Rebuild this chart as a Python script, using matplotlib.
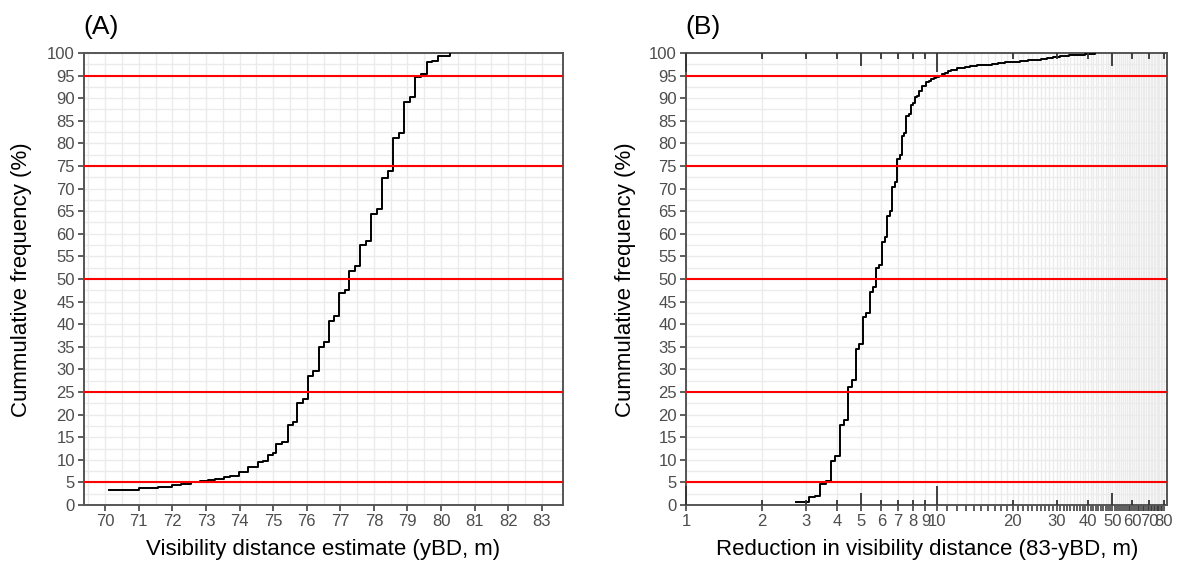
import matplotlib
matplotlib.use('Agg')
import matplotlib.pyplot as plt
from matplotlib.ticker import FixedLocator, NullLocator, FixedFormatter

plt.rcParams['font.family'] = ['Liberation Sans', 'DejaVu Sans']

# ---------------- data ----------------
# Panel A: ECDF of visibility distance estimate (yBD, m)
yBD = [70.10, 71.02, 71.58, 71.98, 72.27, 72.57, 72.82, 73.07, 73.26, 73.53,
       73.71, 73.98, 74.25, 74.55, 74.70, 74.85, 75.00, 75.10, 75.27, 75.44,
       75.59, 75.72, 75.89, 76.04, 76.20, 76.36, 76.50, 76.66, 76.82, 76.97,
       77.14, 77.27, 77.44, 77.60, 77.77, 77.92, 78.09, 78.25, 78.42, 78.58,
       78.75, 78.90, 79.07, 79.22, 79.40, 79.57, 79.74, 79.92, 80.26]
cum_A = [3.3, 3.7, 4.05, 4.4, 4.7, 5.0, 5.2, 5.5, 5.8, 6.1,
         6.5, 7.2, 8.3, 9.5, 9.8, 11.1, 11.5, 13.4, 14.0, 17.7,
         18.3, 22.5, 23.5, 28.6, 29.6, 35.0, 36.0, 40.8, 41.9, 46.8,
         47.5, 51.7, 52.8, 57.5, 58.5, 64.3, 65.4, 72.4, 73.8, 81.2,
         82.2, 89.1, 90.2, 94.8, 95.3, 97.9, 98.3, 99.4, 100.0]

# Panel B: ECDF of reduction in visibility distance (83-yBD, m)
reduction = [2.74, 3.08, 3.26, 3.43, 3.60, 3.78, 3.93, 4.10, 4.25, 4.42,
             4.58, 4.75, 4.91, 5.08, 5.23, 5.40, 5.56, 5.73, 5.86, 6.03,
             6.18, 6.34, 6.50, 6.64, 6.80, 6.96, 7.11, 7.28, 7.41, 7.56,
             7.73, 7.90, 8.00, 8.15, 8.30, 8.45, 8.75, 9.02, 9.29, 9.47,
             9.74, 9.93, 10.18, 10.43, 10.73, 11.02, 11.42, 11.98, 12.90,
             13.5, 14.5, 15.5, 16.5, 17.5, 18.7, 20.0, 21.5, 23.0, 24.5,
             26.0, 27.5, 29.0, 31.0, 33.5, 36.0, 39.0, 42.5]
cum_B = [0.6, 1.7, 2.1, 4.7, 5.2, 9.8, 10.9, 17.8, 18.8, 26.2,
         27.6, 34.6, 35.7, 41.5, 42.5, 47.2, 48.3, 52.5, 53.2, 58.1,
         59.2, 64.0, 65.0, 70.4, 71.4, 76.5, 77.5, 81.7, 82.3, 86.0,
         86.6, 88.5, 88.9, 90.2, 90.5, 91.7, 92.8, 93.5, 93.9, 94.2,
         94.5, 94.8, 95.0, 95.3, 95.6, 95.95, 96.3, 96.7, 96.9,
         97.1, 97.3, 97.45, 97.6, 97.75, 97.9, 98.1, 98.25, 98.4, 98.55,
         98.7, 98.9, 99.1, 99.3, 99.5, 99.6, 99.75, 100.0]

ref_levels = [5, 25, 50, 75, 95]
y_ticks = list(range(0, 101, 5))
A_xticks = list(range(70, 84))
B_xticks = list(range(1, 81))
B_xlabels = [1, 2, 3, 4, 5, 6, 7, 8, 9, 10, 20, 30, 40, 50, 60, 70, 80]
log_long = [1, 10]
log_mid = [5, 50]
log_short = [2, 3, 4, 6, 7, 8, 9, 20, 30, 40, 60, 70, 80]

# ---------------- figure ----------------
W, H = 1179, 565
fig = plt.figure(figsize=(W / 100, H / 100), dpi=100)


def rect(l, t, r, b):
    return [l / W, 1 - b / H, (r - l) / W, (b - t) / H]


axA = fig.add_axes(rect(84, 53, 563, 505))
axB = fig.add_axes(rect(686, 53, 1167, 505))

GRID = '#EBEBEB'
SPINE = '#555555'
TICKC = '#4D4D4D'


def style(ax):
    for s in ax.spines.values():
        s.set_color(SPINE)
        s.set_linewidth(1.4)
    ax.set_ylim(0, 100)
    ax.yaxis.set_major_locator(FixedLocator(y_ticks))
    ax.yaxis.set_minor_locator(FixedLocator([v + 2.5 for v in y_ticks[:-1]]))
    ax.tick_params(which='major', direction='out', length=4, width=1.1,
                   color='#333333', labelcolor=TICKC, labelsize=12, pad=2.5)
    ax.tick_params(which='minor', length=0)
    ax.grid(True, which='both', color=GRID, lw=1.0, zorder=0)
    ax.set_axisbelow(True)
    for lv in ref_levels:
        ax.axhline(lv, color='#FF0000', lw=1.5, zorder=4)


# Panel A
axA.step(yBD, cum_A, where='post', color='black', lw=1.4, zorder=3)
axA.set_xlim(69.37, 83.63)
axA.xaxis.set_major_locator(FixedLocator(A_xticks))
axA.xaxis.set_minor_locator(FixedLocator([v + 0.5 for v in A_xticks[:-1]] + [69.5]))
style(axA)

# Panel B
axB.set_xscale('log')
axB.step(reduction, cum_B, where='post', color='black', lw=1.4, zorder=3)
axB.set_xlim(1, 82.5)
axB.xaxis.set_major_locator(FixedLocator(B_xticks))
axB.xaxis.set_minor_locator(NullLocator())
axB.xaxis.set_major_formatter(FixedFormatter(
    [str(v) if v in B_xlabels else '' for v in B_xticks]))
style(axB)
axB.grid(False, which='minor', axis='x')

trans = axB.get_xaxis_transform()
ph = 452.0
for xs, L in ((log_long, 19), (log_mid, 12.5), (log_short, 5.5)):
    f = L / ph
    axB.vlines(xs, 0, f, transform=trans, color='#333333', lw=1.3, zorder=5, clip_on=False)
    axB.vlines(xs, 1 - f, 1, transform=trans, color='#333333', lw=1.3, zorder=5, clip_on=False)

# Texts
fig.text(83 / W, 1 - 27 / H, '(A)', fontsize=19, va='center', ha='left')
fig.text(685 / W, 1 - 27 / H, '(B)', fontsize=19, va='center', ha='left')
fig.text(22 / W, 1 - 280 / H, 'Cummulative frequency (%)', fontsize=16,
         rotation=90, va='center', ha='center')
fig.text(625 / W, 1 - 280 / H, 'Cummulative frequency (%)', fontsize=16,
         rotation=90, va='center', ha='center')
fig.text(323 / W, 1 - 550 / H, 'Visibility distance estimate (yBD, m)', fontsize=16,
         va='center', ha='center')
fig.text(927 / W, 1 - 550 / H, 'Reduction in visibility distance (83-yBD, m)',
         fontsize=16, va='center', ha='center')

fig.savefig('out.png', dpi=100)
